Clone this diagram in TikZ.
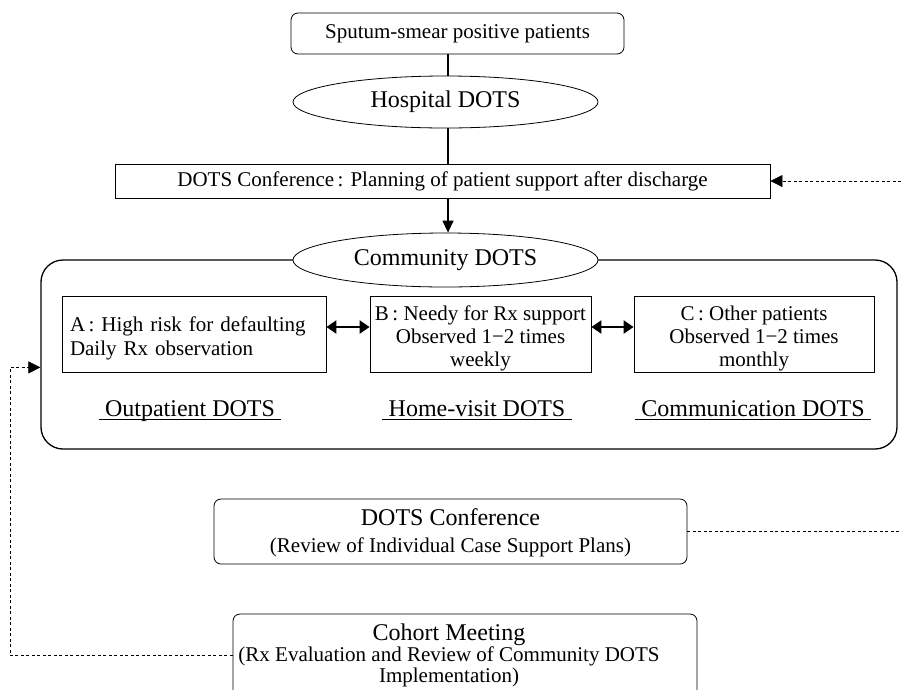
\documentclass[tikz,border=0pt]{standalone}
\usepackage{fontspec}
\setmainfont{Liberation Serif}
\usetikzlibrary{arrows.meta,shapes.geometric}
\begin{document}
\begin{tikzpicture}[x=1pt,y=-1pt,
  body/.style={font=\fontsize{21}{22}\selectfont},
  head/.style={font=\fontsize{24}{26}\selectfont},
  sbox/.style={draw, line width=0.8pt, inner sep=0pt, align=center},
  rbox/.style={sbox, rounded corners=7pt},
  oval/.style={draw, ellipse, line width=0.8pt, fill=white, inner sep=0pt, minimum width=305pt},
  flow/.style={line width=1.3pt},
  arr/.style={flow, -{Triangle[length=12pt,width=11pt]}},
  dblarr/.style={line width=2.2pt, {Triangle[length=10pt,width=13pt]}-{Triangle[length=10pt,width=13pt]}},
  dashline/.style={line width=0.7pt, dash pattern=on 3pt off 2.5pt},
  darrow/.style={dashline, -{Triangle[length=12pt,width=12pt]}},
  lab/.style={head, inner xsep=6pt, inner ysep=0pt, text height=17pt, text depth=3.5pt, anchor=base},
  uline/.style={line width=0.8pt},
  rxbox/.style={sbox, minimum height=76pt}
]
\useasboundingbox (0,0) rectangle (901,689);

\coordinate (spine) at (448,0);
\coordinate (leftrail) at (10,0);
\coordinate (rightrail) at (901,0);

\node[rbox, body, minimum width=333pt, minimum height=41pt] (sputum) at (457.5,33.5) {Sputum-smear positive patients};
\node[oval, head, minimum height=52pt] (hosp) at (445.5,102) {Hospital DOTS};
\node[sbox, body, minimum width=655pt, minimum height=34pt] (conf1) at (442.5,181) {DOTS Conference\,: Planning of patient support after discharge};

\node[draw, line width=1.3pt, rounded corners=22pt, minimum width=856pt, minimum height=189pt] (cbox) at (469,354.5) {};
\node[oval, head, minimum height=54pt] (comm) at (445.5,260) {Community DOTS};

\node[rxbox, font=\fontsize{21}{24}\selectfont, align=left, text width=248pt, minimum width=264pt] (A) at (194,334) {\rule{0pt}{23pt}A\,: High risk for defaulting\\Daily Rx observation};
\node[rxbox, font=\fontsize{21}{23}\selectfont, minimum width=221pt] (B) at (480.5,334) {\rule{0pt}{23pt}B\,: Needy for Rx support\\Observed 1−2 times\\weekly};
\node[rxbox, font=\fontsize{21}{23}\selectfont, minimum width=240pt] (C) at (754,334) {\rule{0pt}{23pt}C\,: Other patients\\Observed 1−2 times\\monthly};

\node[lab] (l1) at (190,416) {Outpatient DOTS};
\node[lab] (l2) at (477,416) {Home-visit DOTS};
\node[lab] (l3) at (753,416) {Communication DOTS};
\draw[uline] (l1.south west) -- (l1.south east);
\draw[uline] (l2.south west) -- (l2.south east);
\draw[uline] (l3.south west) -- (l3.south east);

\node[rbox, body, minimum width=473pt, minimum height=65pt] (conf2) at (450.5,531.5) {{\fontsize{24}{26}\selectfont\rule{0pt}{19.5pt}DOTS Conference}\\[5pt](Review of Individual Case Support Plans)};

\node[rbox, minimum width=464pt, minimum height=86pt] (cohortbox) at (465,657) {};
\node[font=\fontsize{21}{21.5}\selectfont, align=center, inner sep=0pt] (cohort) at (449,655.5) {{\fontsize{24}{26}\selectfont Cohort Meeting}\\[-1pt](Rx Evaluation and Review of Community DOTS\\Implementation)};

\coordinate (fbin) at ([yshift=5pt]A.south);

% connectors
\draw[flow] (spine |- sputum.south) -- (spine |- hosp.north);
\draw[flow] (spine |- hosp.south) -- (spine |- conf1.north);
\draw[arr] (spine |- conf1.south) -- (spine |- comm.north);
\draw[dblarr] ([yshift=7pt]A.east) -- ([yshift=7pt]B.west);
\draw[dblarr] ([yshift=7pt]B.east) -- ([yshift=7pt]C.west);
\draw[darrow] (rightrail |- conf1.east) -- (conf1.east);
\draw[dashline] (conf2.east) -- (rightrail |- conf2.east);
\draw[darrow] (cohortbox.west |- cohort.center) -- (leftrail |- cohort.center) -- (leftrail |- fbin) -- (cbox.west |- fbin);
\end{tikzpicture}
\end{document}
